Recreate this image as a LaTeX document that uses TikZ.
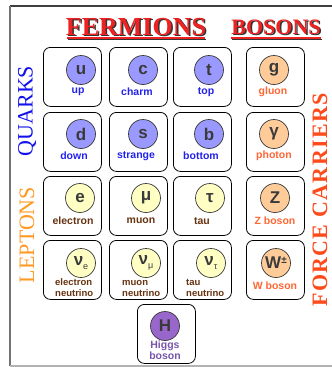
\documentclass[tikz,border=0pt]{standalone}
\usepackage{fontspec}
\setmainfont{Liberation Serif}
\newfontfamily\lsans{Liberation Sans}
\definecolor{qfill}{HTML}{9999FF}
\definecolor{qtext}{HTML}{2222EE}
\definecolor{lfill}{HTML}{FFFFC4}
\definecolor{ltext}{HTML}{663311}
\definecolor{bfill}{HTML}{FFCC99}
\definecolor{btext}{HTML}{FF6633}
\definecolor{hfill}{HTML}{9966CC}
\definecolor{htext}{HTML}{7755AA}
\definecolor{symc}{HTML}{3A3A3A}
\definecolor{titlered}{HTML}{EE2222}
\definecolor{quarkblue}{HTML}{1111EE}
\definecolor{leptonorange}{HTML}{FF9922}
\definecolor{forcered}{HTML}{FF4A1A}
\tikzset{
  cellbox/.style={draw=black, line width=0.8pt, rounded corners=7pt, minimum width=58pt, minimum height=59pt, inner sep=0pt, anchor=north west},
  pcirc/.style={circle, draw=symc, line width=0.7pt, minimum size=29pt, inner sep=0pt, text=symc, font=\lsans\bfseries\fontsize{17}{17}\selectfont},
  plabel/.style={font=\lsans\bfseries\fontsize{10.5}{11}\selectfont, inner sep=0pt},
  nlabel/.style={font=\lsans\bfseries\fontsize{9.5}{11}\selectfont, inner sep=0pt, align=left, anchor=west, text=ltext},
  title/.style={font=\bfseries\fontsize{26}{26}\selectfont, inner sep=0pt},
  side/.style={font=\fontsize{22}{22}\selectfont, inner sep=0pt, rotate=90},
}
\newcommand\subsm[1]{\raisebox{-4pt}{\mdseries\fontsize{9}{9}\selectfont #1}}
\begin{document}
\begin{tikzpicture}[x=1pt,y=-1pt]
\useasboundingbox (0,0) rectangle (332,367);
% frame
\draw[line width=1.5pt, draw=black!75] (10,6) -- (332,6);
\draw[line width=2pt, draw=black!55] (10,6) -- (10,366);
\draw[line width=2pt, draw=black!30] (10,366) -- (332,366);
% titles
\node[title, text=black!80] (fermS) at (137.5,28.5) {FERMIONS};
\node[title, text=titlered] (ferm) at (136,27) {FERMIONS};
\draw[line width=1.2pt, black!80] (68,39.5) -- (206,39.5);
\draw[line width=1.2pt, titlered] (67,38) -- (205,38);
\node[title, text=black!80, font=\bfseries\fontsize{22}{22}\selectfont] (bosS) at (277.5,28.5) {BOSONS};
\node[title, text=titlered, font=\bfseries\fontsize{22}{22}\selectfont] (bos) at (276,27) {BOSONS};
\draw[line width=1.2pt, black!80] (232,39.5) -- (322,39.5);
\draw[line width=1.2pt, titlered] (231,38) -- (321,38);
% side labels
\node[side, text=quarkblue] (quarks) at (27,111) {QUARKS};
\node[side, text=leptonorange] (leptons) at (27,235) {LEPTONS};
\node[side, text=forcered, font=\bfseries\fontsize{22}{22}\selectfont\addfontfeature{LetterSpace=6}] (force) at (320,200) {FORCE CARRIERS};
% boxes
\node[cellbox] (bu) at (43,47) {};
\node[cellbox] (bc) at (109,47) {};
\node[cellbox] (bt) at (173,47) {};
\node[cellbox] (bg) at (246,47) {};
\node[cellbox] (bd) at (43,112) {};
\node[cellbox] (bs) at (109,112) {};
\node[cellbox] (bb) at (173,112) {};
\node[cellbox] (bgam) at (246,112) {};
\node[cellbox] (be) at (43,176) {};
\node[cellbox] (bmu) at (109,176) {};
\node[cellbox] (btau) at (173,176) {};
\node[cellbox] (bz) at (246,176) {};
\node[cellbox] (bne) at (43,240) {};
\node[cellbox] (bnmu) at (109,240) {};
\node[cellbox] (bntau) at (173,240) {};
\node[cellbox] (bw) at (246,240) {};
\node[cellbox] (bh) at (137,304) {};
% circles row 1
\node[pcirc, fill=qfill] (cu) at (81,70) {u};
\node[pcirc, fill=qfill] (cc) at (143,70) {c};
\node[pcirc, fill=qfill] (ct) at (209,70) {t};
\node[pcirc, fill=bfill] (cg) at (274,70) {g};
% row 2
\node[pcirc, fill=qfill] (cd) at (81,134) {d};
\node[pcirc, fill=qfill] (cs) at (143,134) {s};
\node[pcirc, fill=qfill] (cb) at (209,134) {b};
\node[pcirc, fill=bfill] (cgam) at (274,134) {γ};
% row 3
\node[pcirc, fill=lfill] (ce) at (80,198) {e};
\node[pcirc, fill=lfill] (cmu) at (146,198) {μ};
\node[pcirc, fill=lfill] (ctau) at (210,198) {τ};
\node[pcirc, fill=bfill] (cz) at (275,198) {Z};
% row 4
\node[pcirc, fill=lfill] (cne) at (81,263) {ν\subsm{e}};
\node[pcirc, fill=lfill] (cnmu) at (146,263) {ν\subsm{μ}};
\node[pcirc, fill=lfill] (cntau) at (211,263) {ν\subsm{τ}};
\node[pcirc, fill=bfill] (cw) at (276,263) {W\raisebox{5pt}{\fontsize{10}{10}\selectfont ±}};
% higgs
\node[pcirc, fill=hfill] (ch) at (165,326) {H};
% labels
\node[plabel, text=qtext] (lu) at (78,92) {up};
\node[plabel, text=qtext] (lc) at (137,92) {charm};
\node[plabel, text=qtext] (lt) at (206,92) {top};
\node[plabel, text=btext] (lg) at (273,92) {gluon};
\node[plabel, text=qtext] (ld) at (74,156) {down};
\node[plabel, text=qtext] (ls) at (136,156) {strange};
\node[plabel, text=qtext] (lb) at (201,156) {bottom};
\node[plabel, text=btext] (lgam) at (274,156) {photon};
\node[plabel, text=ltext] (le) at (73,221) {electron};
\node[plabel, text=ltext] (lmu) at (141,221) {muon};
\node[plabel, text=ltext] (ltau) at (202,221) {tau};
\node[plabel, text=btext] (lz) at (275,221) {Z boson};
\node[nlabel] (lne) at (55,288) {electron\\neutrino};
\node[nlabel] (lnmu) at (122,288) {muon\\neutrino};
\node[nlabel] (lntau) at (186,288) {tau\\neutrino};
\node[plabel, text=btext] (lw) at (275,286) {W boson};
\node[plabel, text=htext, align=center] (lh) at (165,350) {Higgs\\boson};
\end{tikzpicture}
\end{document}
